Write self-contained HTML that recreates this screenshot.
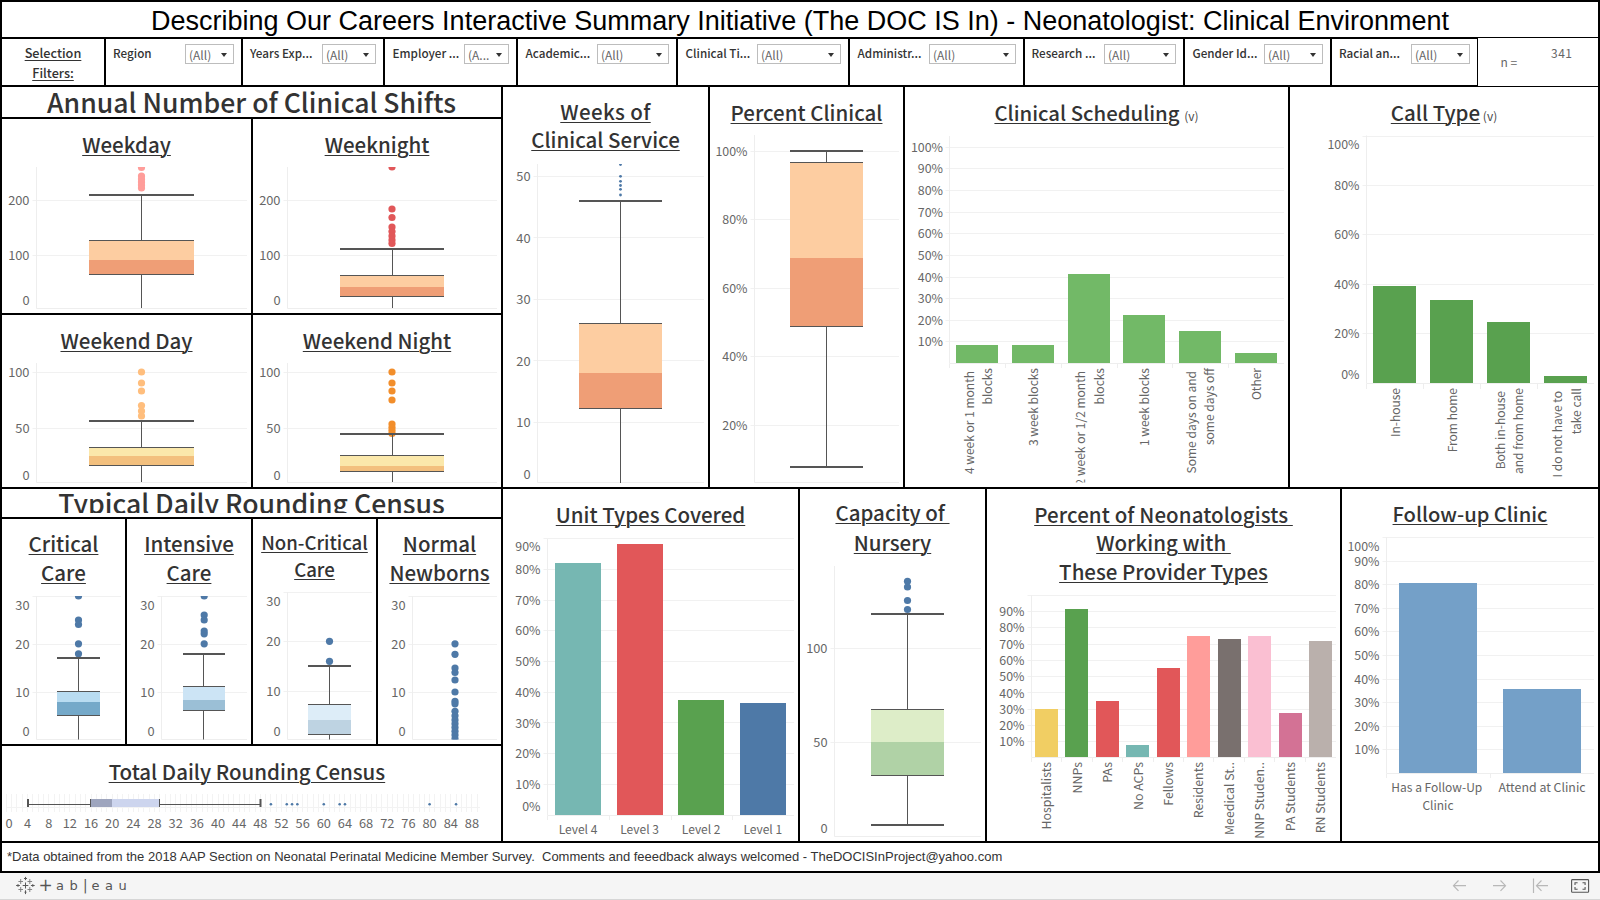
<!DOCTYPE html>
<html lang="en"><head><meta charset="utf-8"><title>DOC IS In - Neonatologist: Clinical Environment</title>
<style>
html,body{margin:0;padding:0;background:#fff;}
body{width:1600px;height:900px;position:relative;overflow:hidden;font-family:"Noto Sans CJK SC","Noto Sans CJK JP","Liberation Sans",sans-serif;}
svg.main{position:absolute;left:0;top:0}
svg.main text{font-family:"Noto Sans CJK SC","Noto Sans CJK JP","Liberation Sans",sans-serif;}
.h{position:absolute;text-align:center;white-space:nowrap;line-height:40px;height:40px;font-family:"Noto Sans CJK SC","Noto Sans CJK JP","Liberation Sans",sans-serif;}
.title{position:absolute;left:0;width:1600px;top:5px;height:32px;line-height:32px;text-align:center;font-family:"Liberation Sans",sans-serif;font-size:27px;color:#000;white-space:nowrap}
.fl{position:absolute;top:42.8px;height:20px;line-height:20px;font-size:11.7px;font-weight:500;color:#333;white-space:nowrap}
.dd{position:absolute;top:44px;height:18px;border:1px solid #bdbdbd;box-sizing:content-box;font-size:12px;color:#666;line-height:18px;background:#fff}
.dd span{position:absolute;left:3px;top:0.5px}
.dd i{position:absolute;right:6px;top:8px;width:0;height:0;border-left:3.2px solid transparent;border-right:3.2px solid transparent;border-top:4px solid #333}
.nn{position:absolute;font-size:12px;color:#666;line-height:16px;white-space:nowrap}
.foot{position:absolute;left:7px;top:848px;height:18px;line-height:18px;font-family:"Liberation Sans",sans-serif;font-size:13px;color:#333;white-space:nowrap}
.tb{position:absolute;left:0;top:873px;width:1600px;height:27px;background:#f5f5f5;border-bottom:1px solid #d6d6d6;box-sizing:border-box}
.logo{position:absolute;left:40px;top:875px;height:22px;width:90px;font-family:"DejaVu Sans","Liberation Sans",sans-serif;font-size:13px;color:#555}
.logo span{position:absolute;top:0;line-height:22px}
</style></head><body>
<svg class="main" width="1600" height="900" viewBox="0 0 1600 900">
<rect x="0" y="0" width="1600" height="2" fill="#000"/>
<rect x="0" y="37" width="1477" height="2" fill="#000"/>
<rect x="1477" y="37" width="123" height="1" fill="#000"/>
<rect x="0" y="85" width="1477" height="2" fill="#000"/>
<rect x="1477" y="86" width="123" height="1" fill="#000"/>
<rect x="0" y="117" width="503" height="2" fill="#000"/>
<rect x="0" y="313" width="503" height="2" fill="#000"/>
<rect x="0" y="487" width="1600" height="2" fill="#000"/>
<rect x="0" y="517" width="503" height="2" fill="#000"/>
<rect x="0" y="744" width="503" height="2" fill="#000"/>
<rect x="0" y="841" width="1600" height="2" fill="#000"/>
<rect x="0" y="871" width="1600" height="2" fill="#000"/>
<rect x="0" y="0" width="2" height="873" fill="#000"/>
<rect x="1598" y="0" width="2" height="873" fill="#000"/>
<rect x="104" y="37" width="2" height="50" fill="#000"/>
<rect x="241" y="37" width="2" height="50" fill="#000"/>
<rect x="383" y="37" width="2" height="50" fill="#000"/>
<rect x="516" y="37" width="2" height="50" fill="#000"/>
<rect x="676" y="37" width="2" height="50" fill="#000"/>
<rect x="848" y="37" width="2" height="50" fill="#000"/>
<rect x="1023" y="37" width="2" height="50" fill="#000"/>
<rect x="1183" y="37" width="2" height="50" fill="#000"/>
<rect x="1330" y="37" width="2" height="50" fill="#000"/>
<rect x="1477" y="37" width="1" height="50" fill="#000"/>
<rect x="251" y="117" width="2" height="370" fill="#000"/>
<rect x="501" y="85" width="2" height="758" fill="#000"/>
<rect x="708" y="85" width="2" height="404" fill="#000"/>
<rect x="903" y="85" width="2" height="404" fill="#000"/>
<rect x="1288" y="85" width="2" height="404" fill="#000"/>
<rect x="125" y="517" width="2" height="229" fill="#000"/>
<rect x="251" y="517" width="2" height="229" fill="#000"/>
<rect x="376" y="517" width="2" height="229" fill="#000"/>
<rect x="798" y="487" width="2" height="356" fill="#000"/>
<rect x="985" y="487" width="2" height="356" fill="#000"/>
<rect x="1340" y="487" width="2" height="356" fill="#000"/>
<rect x="32.5" y="200" width="214.5" height="1" fill="#f1f1f1"/>
<rect x="32.5" y="255" width="214.5" height="1" fill="#f1f1f1"/>
<rect x="36" y="167" width="1" height="141.5" fill="#eeeeee"/>
<rect x="36.5" y="308" width="210.5" height="1" fill="#eeeeee"/>
<text transform="translate(29.5,204.8) scale(1.07,1)" font-size="12" text-anchor="end" fill="#666" font-weight="400">200</text>
<text transform="translate(29.5,259.8) scale(1.07,1)" font-size="12" text-anchor="end" fill="#666" font-weight="400">100</text>
<text transform="translate(29.5,304.8) scale(1.07,1)" font-size="12" text-anchor="end" fill="#666" font-weight="400">0</text>
<rect x="32.5" y="372" width="214.5" height="1" fill="#f1f1f1"/>
<rect x="32.5" y="428" width="214.5" height="1" fill="#f1f1f1"/>
<rect x="36" y="363" width="1" height="119.5" fill="#eeeeee"/>
<rect x="36.5" y="482" width="210.5" height="1" fill="#eeeeee"/>
<text transform="translate(29.5,377) scale(1.07,1)" font-size="12" text-anchor="end" fill="#666" font-weight="400">100</text>
<text transform="translate(29.5,433.1) scale(1.07,1)" font-size="12" text-anchor="end" fill="#666" font-weight="400">50</text>
<text transform="translate(29.5,479.5) scale(1.07,1)" font-size="12" text-anchor="end" fill="#666" font-weight="400">0</text>
<rect x="283.5" y="200" width="213.5" height="1" fill="#f1f1f1"/>
<rect x="283.5" y="255" width="213.5" height="1" fill="#f1f1f1"/>
<rect x="287" y="167" width="1" height="141.5" fill="#eeeeee"/>
<rect x="287.5" y="308" width="209.5" height="1" fill="#eeeeee"/>
<text transform="translate(280.5,204.8) scale(1.07,1)" font-size="12" text-anchor="end" fill="#666" font-weight="400">200</text>
<text transform="translate(280.5,259.8) scale(1.07,1)" font-size="12" text-anchor="end" fill="#666" font-weight="400">100</text>
<text transform="translate(280.5,304.8) scale(1.07,1)" font-size="12" text-anchor="end" fill="#666" font-weight="400">0</text>
<rect x="283.5" y="372" width="213.5" height="1" fill="#f1f1f1"/>
<rect x="283.5" y="428" width="213.5" height="1" fill="#f1f1f1"/>
<rect x="287" y="363" width="1" height="119.5" fill="#eeeeee"/>
<rect x="287.5" y="482" width="209.5" height="1" fill="#eeeeee"/>
<text transform="translate(280.5,377) scale(1.07,1)" font-size="12" text-anchor="end" fill="#666" font-weight="400">100</text>
<text transform="translate(280.5,433.1) scale(1.07,1)" font-size="12" text-anchor="end" fill="#666" font-weight="400">50</text>
<text transform="translate(280.5,479.5) scale(1.07,1)" font-size="12" text-anchor="end" fill="#666" font-weight="400">0</text>
<clipPath id="c1"><rect x="37" y="167" width="210" height="141.5"/></clipPath>
<g clip-path="url(#c1)">
<circle cx="141.5" cy="167.5" r="3.6" fill="#FF9D9A"/>
<circle cx="141.5" cy="176" r="3.6" fill="#FF9D9A"/>
<circle cx="141.5" cy="179" r="3.6" fill="#FF9D9A"/>
<circle cx="141.5" cy="182" r="3.6" fill="#FF9D9A"/>
<circle cx="141.5" cy="185" r="3.6" fill="#FF9D9A"/>
<circle cx="141.5" cy="188" r="3.6" fill="#FF9D9A"/>
<rect x="141" y="194" width="1" height="46" fill="#555555"/>
<rect x="141" y="274" width="1" height="34" fill="#555555"/>
<rect x="89" y="240" width="105" height="20" fill="#FDCDA1"/>
<rect x="89" y="260" width="105" height="15" fill="#EF9E76"/>
<rect x="89" y="240" width="105" height="1" fill="#555555"/>
<rect x="89" y="274" width="105" height="1" fill="#555555"/>
<rect x="89" y="194" width="105" height="2" fill="#555555"/>
</g>
<clipPath id="c2"><rect x="288" y="167" width="209" height="141.5"/></clipPath>
<g clip-path="url(#c2)">
<circle cx="392" cy="167" r="3.6" fill="#E15759"/>
<circle cx="392" cy="209" r="3.6" fill="#E15759"/>
<circle cx="392" cy="217.5" r="3.6" fill="#E15759"/>
<circle cx="392" cy="227" r="3.6" fill="#E15759"/>
<circle cx="392" cy="231.5" r="3.6" fill="#E15759"/>
<circle cx="392" cy="236" r="3.6" fill="#E15759"/>
<circle cx="392" cy="240" r="3.6" fill="#E15759"/>
<circle cx="392" cy="243.5" r="3.6" fill="#E15759"/>
<rect x="392" y="248" width="1" height="27" fill="#555555"/>
<rect x="392" y="296" width="1" height="12" fill="#555555"/>
<rect x="340" y="275" width="104" height="12" fill="#FDCDA1"/>
<rect x="340" y="287" width="104" height="10" fill="#EF9E76"/>
<rect x="340" y="275" width="104" height="1" fill="#555555"/>
<rect x="340" y="296" width="104" height="1" fill="#555555"/>
<rect x="340" y="248" width="104" height="2" fill="#555555"/>
</g>
<clipPath id="c3"><rect x="37" y="363" width="210" height="119.5"/></clipPath>
<g clip-path="url(#c3)">
<circle cx="141.5" cy="372" r="3.6" fill="#FFBE7D"/>
<circle cx="141.5" cy="383" r="3.6" fill="#FFBE7D"/>
<circle cx="141.5" cy="391" r="3.6" fill="#FFBE7D"/>
<circle cx="141.5" cy="405.5" r="3.6" fill="#FFBE7D"/>
<circle cx="141.5" cy="411" r="3.6" fill="#FFBE7D"/>
<circle cx="141.5" cy="416" r="3.6" fill="#FFBE7D"/>
<rect x="141" y="420" width="1" height="27" fill="#555555"/>
<rect x="141" y="465" width="1" height="17" fill="#555555"/>
<rect x="89" y="447" width="105" height="9" fill="#FBE8AB"/>
<rect x="89" y="456" width="105" height="10" fill="#F3C07E"/>
<rect x="89" y="447" width="105" height="1" fill="#555555"/>
<rect x="89" y="465" width="105" height="1" fill="#555555"/>
<rect x="89" y="420" width="105" height="2" fill="#555555"/>
</g>
<clipPath id="c4"><rect x="288" y="363" width="209" height="119.5"/></clipPath>
<g clip-path="url(#c4)">
<circle cx="392" cy="372" r="3.6" fill="#F28E2B"/>
<circle cx="392" cy="383" r="3.6" fill="#F28E2B"/>
<circle cx="392" cy="391" r="3.6" fill="#F28E2B"/>
<circle cx="392" cy="400" r="3.6" fill="#F28E2B"/>
<circle cx="392" cy="424" r="3.6" fill="#F28E2B"/>
<circle cx="392" cy="427.5" r="3.6" fill="#F28E2B"/>
<circle cx="392" cy="430.5" r="3.6" fill="#F28E2B"/>
<circle cx="392" cy="433.5" r="3.6" fill="#F28E2B"/>
<rect x="392" y="433" width="1" height="22" fill="#555555"/>
<rect x="392" y="471" width="1" height="11" fill="#555555"/>
<rect x="340" y="455" width="104" height="11" fill="#FBE8AB"/>
<rect x="340" y="466" width="104" height="6" fill="#F3C07E"/>
<rect x="340" y="455" width="104" height="1" fill="#555555"/>
<rect x="340" y="471" width="104" height="1" fill="#555555"/>
<rect x="340" y="433" width="104" height="2" fill="#555555"/>
</g>
<rect x="533.5" y="176" width="170.5" height="1" fill="#f1f1f1"/>
<rect x="533.5" y="237" width="170.5" height="1" fill="#f1f1f1"/>
<rect x="533.5" y="299" width="170.5" height="1" fill="#f1f1f1"/>
<rect x="533.5" y="360" width="170.5" height="1" fill="#f1f1f1"/>
<rect x="533.5" y="422" width="170.5" height="1" fill="#f1f1f1"/>
<rect x="537" y="164" width="1" height="318.5" fill="#eeeeee"/>
<rect x="537.5" y="482" width="166.5" height="1" fill="#eeeeee"/>
<text transform="translate(530.5,181.3) scale(1.07,1)" font-size="12" text-anchor="end" fill="#666" font-weight="400">50</text>
<text transform="translate(530.5,242.8) scale(1.07,1)" font-size="12" text-anchor="end" fill="#666" font-weight="400">40</text>
<text transform="translate(530.5,304.3) scale(1.07,1)" font-size="12" text-anchor="end" fill="#666" font-weight="400">30</text>
<text transform="translate(530.5,365.8) scale(1.07,1)" font-size="12" text-anchor="end" fill="#666" font-weight="400">20</text>
<text transform="translate(530.5,427.3) scale(1.07,1)" font-size="12" text-anchor="end" fill="#666" font-weight="400">10</text>
<text transform="translate(530.5,479.3) scale(1.07,1)" font-size="12" text-anchor="end" fill="#666" font-weight="400">0</text>
<clipPath id="c5"><rect x="538" y="164" width="166" height="319.5"/></clipPath>
<g clip-path="url(#c5)">
<circle cx="620.5" cy="164.5" r="1.4" fill="#4E79A7"/>
<circle cx="620.5" cy="176.3" r="1.4" fill="#4E79A7"/>
<circle cx="620.5" cy="181.3" r="1.4" fill="#4E79A7"/>
<circle cx="620.5" cy="185.5" r="1.4" fill="#4E79A7"/>
<circle cx="620.5" cy="189.3" r="1.4" fill="#4E79A7"/>
<circle cx="620.5" cy="195" r="1.4" fill="#4E79A7"/>
<rect x="620" y="200" width="1" height="123" fill="#555555"/>
<rect x="620" y="408" width="1" height="75" fill="#555555"/>
<rect x="579" y="323" width="83" height="50" fill="#FDCDA1"/>
<rect x="579" y="373" width="83" height="36" fill="#EF9E76"/>
<rect x="579" y="323" width="83" height="1" fill="#555555"/>
<rect x="579" y="408" width="83" height="1" fill="#555555"/>
<rect x="579" y="200" width="83" height="2" fill="#555555"/>
</g>
<rect x="750.5" y="151" width="148.5" height="1" fill="#f1f1f1"/>
<rect x="750.5" y="219" width="148.5" height="1" fill="#f1f1f1"/>
<rect x="750.5" y="288" width="148.5" height="1" fill="#f1f1f1"/>
<rect x="750.5" y="356" width="148.5" height="1" fill="#f1f1f1"/>
<rect x="750.5" y="425" width="148.5" height="1" fill="#f1f1f1"/>
<rect x="754" y="135" width="1" height="347.5" fill="#eeeeee"/>
<rect x="754.5" y="482" width="144.5" height="1" fill="#eeeeee"/>
<text transform="translate(747.5,156.3) scale(1.035,1)" font-size="12" text-anchor="end" fill="#666" font-weight="400">100%</text>
<text transform="translate(747.5,224.3) scale(1.035,1)" font-size="12" text-anchor="end" fill="#666" font-weight="400">80%</text>
<text transform="translate(747.5,292.8) scale(1.035,1)" font-size="12" text-anchor="end" fill="#666" font-weight="400">60%</text>
<text transform="translate(747.5,361.3) scale(1.035,1)" font-size="12" text-anchor="end" fill="#666" font-weight="400">40%</text>
<text transform="translate(747.5,429.8) scale(1.035,1)" font-size="12" text-anchor="end" fill="#666" font-weight="400">20%</text>
<clipPath id="c6"><rect x="755" y="135" width="144" height="348.5"/></clipPath>
<g clip-path="url(#c6)">
<rect x="826" y="150" width="1" height="12" fill="#555555"/>
<rect x="826" y="326" width="1" height="141" fill="#555555"/>
<rect x="790" y="162" width="73" height="96" fill="#FDCDA1"/>
<rect x="790" y="258" width="73" height="69" fill="#EF9E76"/>
<rect x="790" y="162" width="73" height="1" fill="#555555"/>
<rect x="790" y="326" width="73" height="1" fill="#555555"/>
<rect x="790" y="150" width="73" height="2" fill="#555555"/>
<rect x="790" y="466" width="73" height="2" fill="#555555"/>
</g>
<rect x="945.5" y="147" width="338.5" height="1" fill="#f1f1f1"/>
<rect x="945.5" y="168" width="338.5" height="1" fill="#f1f1f1"/>
<rect x="945.5" y="190" width="338.5" height="1" fill="#f1f1f1"/>
<rect x="945.5" y="212" width="338.5" height="1" fill="#f1f1f1"/>
<rect x="945.5" y="233" width="338.5" height="1" fill="#f1f1f1"/>
<rect x="945.5" y="255" width="338.5" height="1" fill="#f1f1f1"/>
<rect x="945.5" y="277" width="338.5" height="1" fill="#f1f1f1"/>
<rect x="945.5" y="298" width="338.5" height="1" fill="#f1f1f1"/>
<rect x="945.5" y="320" width="338.5" height="1" fill="#f1f1f1"/>
<rect x="945.5" y="341" width="338.5" height="1" fill="#f1f1f1"/>
<rect x="949" y="136" width="1" height="227.5" fill="#eeeeee"/>
<rect x="949.5" y="363" width="334.5" height="1" fill="#eeeeee"/>
<text transform="translate(943,151.8) scale(1.035,1)" font-size="12" text-anchor="end" fill="#666" font-weight="400">100%</text>
<text transform="translate(943,172.8) scale(1.035,1)" font-size="12" text-anchor="end" fill="#666" font-weight="400">90%</text>
<text transform="translate(943,194.8) scale(1.035,1)" font-size="12" text-anchor="end" fill="#666" font-weight="400">80%</text>
<text transform="translate(943,216.8) scale(1.035,1)" font-size="12" text-anchor="end" fill="#666" font-weight="400">70%</text>
<text transform="translate(943,237.8) scale(1.035,1)" font-size="12" text-anchor="end" fill="#666" font-weight="400">60%</text>
<text transform="translate(943,259.8) scale(1.035,1)" font-size="12" text-anchor="end" fill="#666" font-weight="400">50%</text>
<text transform="translate(943,281.8) scale(1.035,1)" font-size="12" text-anchor="end" fill="#666" font-weight="400">40%</text>
<text transform="translate(943,302.8) scale(1.035,1)" font-size="12" text-anchor="end" fill="#666" font-weight="400">30%</text>
<text transform="translate(943,324.8) scale(1.035,1)" font-size="12" text-anchor="end" fill="#666" font-weight="400">20%</text>
<text transform="translate(943,345.8) scale(1.035,1)" font-size="12" text-anchor="end" fill="#666" font-weight="400">10%</text>
<rect x="956" y="345" width="42" height="18" fill="#72B967"/>
<rect x="1012" y="345" width="42" height="18" fill="#72B967"/>
<rect x="1068" y="274" width="42" height="89" fill="#72B967"/>
<rect x="1123" y="315" width="42" height="48" fill="#72B967"/>
<rect x="1179" y="331" width="42" height="32" fill="#72B967"/>
<rect x="1235" y="353" width="42" height="10" fill="#72B967"/>
<rect x="1005" y="364" width="1" height="4" fill="#eeeeee"/>
<rect x="1061" y="364" width="1" height="4" fill="#eeeeee"/>
<rect x="1117" y="364" width="1" height="4" fill="#eeeeee"/>
<rect x="1172" y="364" width="1" height="4" fill="#eeeeee"/>
<rect x="1228" y="364" width="1" height="4" fill="#eeeeee"/>
<rect x="949" y="364" width="1" height="4" fill="#eeeeee"/>
<clipPath id="cs"><rect x="905" y="364" width="383" height="118.5"/></clipPath><g clip-path="url(#cs)">
<text transform="translate(973.5,371) rotate(-90)" font-size="12" text-anchor="end" fill="#666">4 week or 1 month</text>
<text transform="translate(991.7,368) rotate(-90)" font-size="12" text-anchor="end" fill="#666">blocks</text>
<text transform="translate(1037.9,368) rotate(-90)" font-size="12" text-anchor="end" fill="#666">3 week blocks</text>
<text transform="translate(1085.2,371) rotate(-90)" font-size="12" text-anchor="end" fill="#666">2 week or 1/2 month</text>
<text transform="translate(1103.5,368) rotate(-90)" font-size="12" text-anchor="end" fill="#666">blocks</text>
<text transform="translate(1149.2,368) rotate(-90)" font-size="12" text-anchor="end" fill="#666">1 week blocks</text>
<text transform="translate(1195.9,371) rotate(-90)" font-size="12" text-anchor="end" fill="#666">Some days on and</text>
<text transform="translate(1214.2,368) rotate(-90)" font-size="12" text-anchor="end" fill="#666">some days off</text>
<text transform="translate(1260.7,368) rotate(-90)" font-size="12" text-anchor="end" fill="#666">Other</text>
</g>
<rect x="1362.5" y="136" width="231.5" height="1" fill="#f1f1f1"/>
<rect x="1362.5" y="185" width="231.5" height="1" fill="#f1f1f1"/>
<rect x="1362.5" y="234" width="231.5" height="1" fill="#f1f1f1"/>
<rect x="1362.5" y="284" width="231.5" height="1" fill="#f1f1f1"/>
<rect x="1362.5" y="333" width="231.5" height="1" fill="#f1f1f1"/>
<rect x="1366" y="135.5" width="1" height="248" fill="#eeeeee"/>
<rect x="1366.5" y="383" width="227.5" height="1" fill="#eeeeee"/>
<text transform="translate(1359.5,148.8) scale(1.035,1)" font-size="12" text-anchor="end" fill="#666" font-weight="400">100%</text>
<text transform="translate(1359.5,190) scale(1.035,1)" font-size="12" text-anchor="end" fill="#666" font-weight="400">80%</text>
<text transform="translate(1359.5,239) scale(1.035,1)" font-size="12" text-anchor="end" fill="#666" font-weight="400">60%</text>
<text transform="translate(1359.5,288.8) scale(1.035,1)" font-size="12" text-anchor="end" fill="#666" font-weight="400">40%</text>
<text transform="translate(1359.5,337.8) scale(1.035,1)" font-size="12" text-anchor="end" fill="#666" font-weight="400">20%</text>
<text transform="translate(1359.5,378.8) scale(1.035,1)" font-size="12" text-anchor="end" fill="#666" font-weight="400">0%</text>
<rect x="1373" y="286" width="43" height="97" fill="#59A14F"/>
<rect x="1430" y="300" width="43" height="83" fill="#59A14F"/>
<rect x="1487" y="322" width="43" height="61" fill="#59A14F"/>
<rect x="1544" y="376" width="43" height="7" fill="#59A14F"/>
<rect x="1366" y="384" width="1" height="5" fill="#eeeeee"/>
<rect x="1423" y="384" width="1" height="5" fill="#eeeeee"/>
<rect x="1480" y="384" width="1" height="5" fill="#eeeeee"/>
<rect x="1537" y="384" width="1" height="5" fill="#eeeeee"/>
<text transform="translate(1399.9,388) rotate(-90)" font-size="12" text-anchor="end" fill="#666">In-house</text>
<text transform="translate(1456.7,388) rotate(-90)" font-size="12" text-anchor="end" fill="#666">From home</text>
<text transform="translate(1504.9,391) rotate(-90)" font-size="12" text-anchor="end" fill="#666">Both in-house</text>
<text transform="translate(1523.4,388) rotate(-90)" font-size="12" text-anchor="end" fill="#666">and from home</text>
<text transform="translate(1562.2,391) rotate(-90)" font-size="12" text-anchor="end" fill="#666">I do not have to</text>
<text transform="translate(1580.5,388) rotate(-90)" font-size="12" text-anchor="end" fill="#666">take call</text>
<rect x="32.5" y="596" width="88.5" height="1" fill="#f1f1f1"/>
<rect x="32.5" y="644" width="88.5" height="1" fill="#f1f1f1"/>
<rect x="32.5" y="692" width="88.5" height="1" fill="#f1f1f1"/>
<rect x="36" y="596" width="1" height="143.5" fill="#eeeeee"/>
<rect x="36.5" y="739" width="84.5" height="1" fill="#eeeeee"/>
<text transform="translate(29.5,610.05) scale(1.07,1)" font-size="12" text-anchor="end" fill="#666" font-weight="400">30</text>
<text transform="translate(29.5,648.8) scale(1.07,1)" font-size="12" text-anchor="end" fill="#666" font-weight="400">20</text>
<text transform="translate(29.5,696.8) scale(1.07,1)" font-size="12" text-anchor="end" fill="#666" font-weight="400">10</text>
<text transform="translate(29.5,736.05) scale(1.07,1)" font-size="12" text-anchor="end" fill="#666" font-weight="400">0</text>
<clipPath id="c7"><rect x="37" y="596" width="84" height="144.0"/></clipPath>
<g clip-path="url(#c7)">
<circle cx="78.5" cy="596" r="3.6" fill="#4E79A7"/>
<circle cx="78.5" cy="620" r="3.6" fill="#4E79A7"/>
<circle cx="78.5" cy="624.5" r="3.6" fill="#4E79A7"/>
<circle cx="78.5" cy="643.8" r="3.6" fill="#4E79A7"/>
<circle cx="78.5" cy="653.8" r="3.6" fill="#4E79A7"/>
<rect x="78" y="657" width="1" height="34" fill="#555555"/>
<rect x="78" y="715" width="1" height="24.5" fill="#555555"/>
<rect x="57" y="691" width="43" height="11" fill="#B9DCF1"/>
<rect x="57" y="702" width="43" height="14" fill="#75A9C9"/>
<rect x="57" y="691" width="43" height="1" fill="#555555"/>
<rect x="57" y="715" width="43" height="1" fill="#555555"/>
<rect x="57" y="657" width="43" height="2" fill="#555555"/>
</g>
<rect x="157.5" y="596" width="89.5" height="1" fill="#f1f1f1"/>
<rect x="157.5" y="644" width="89.5" height="1" fill="#f1f1f1"/>
<rect x="157.5" y="692" width="89.5" height="1" fill="#f1f1f1"/>
<rect x="161" y="596" width="1" height="143.5" fill="#eeeeee"/>
<rect x="161.5" y="739" width="85.5" height="1" fill="#eeeeee"/>
<text transform="translate(154.5,610.05) scale(1.07,1)" font-size="12" text-anchor="end" fill="#666" font-weight="400">30</text>
<text transform="translate(154.5,648.8) scale(1.07,1)" font-size="12" text-anchor="end" fill="#666" font-weight="400">20</text>
<text transform="translate(154.5,696.8) scale(1.07,1)" font-size="12" text-anchor="end" fill="#666" font-weight="400">10</text>
<text transform="translate(154.5,736.05) scale(1.07,1)" font-size="12" text-anchor="end" fill="#666" font-weight="400">0</text>
<clipPath id="c8"><rect x="162" y="596" width="85" height="144.0"/></clipPath>
<g clip-path="url(#c8)">
<circle cx="204.2" cy="596" r="3.6" fill="#4E79A7"/>
<circle cx="204.2" cy="615" r="3.6" fill="#4E79A7"/>
<circle cx="204.2" cy="620" r="3.6" fill="#4E79A7"/>
<circle cx="204.2" cy="631" r="3.6" fill="#4E79A7"/>
<circle cx="204.2" cy="633.8" r="3.6" fill="#4E79A7"/>
<circle cx="204.2" cy="643.8" r="3.6" fill="#4E79A7"/>
<rect x="203" y="653" width="1" height="33" fill="#555555"/>
<rect x="203" y="710" width="1" height="29.5" fill="#555555"/>
<rect x="183" y="686" width="42" height="14" fill="#CCE4F5"/>
<rect x="183" y="700" width="42" height="11" fill="#9BBFD6"/>
<rect x="183" y="686" width="42" height="1" fill="#555555"/>
<rect x="183" y="710" width="42" height="1" fill="#555555"/>
<rect x="183" y="653" width="42" height="2" fill="#555555"/>
</g>
<rect x="283.5" y="592" width="88.5" height="1" fill="#f1f1f1"/>
<rect x="283.5" y="641" width="88.5" height="1" fill="#f1f1f1"/>
<rect x="283.5" y="691" width="88.5" height="1" fill="#f1f1f1"/>
<rect x="287" y="592.5" width="1" height="147" fill="#eeeeee"/>
<rect x="287.5" y="739" width="84.5" height="1" fill="#eeeeee"/>
<text transform="translate(280.5,606.3) scale(1.07,1)" font-size="12" text-anchor="end" fill="#666" font-weight="400">30</text>
<text transform="translate(280.5,646.05) scale(1.07,1)" font-size="12" text-anchor="end" fill="#666" font-weight="400">20</text>
<text transform="translate(280.5,696.3) scale(1.07,1)" font-size="12" text-anchor="end" fill="#666" font-weight="400">10</text>
<text transform="translate(280.5,736.05) scale(1.07,1)" font-size="12" text-anchor="end" fill="#666" font-weight="400">0</text>
<clipPath id="c9"><rect x="288" y="592.5" width="84" height="147.5"/></clipPath>
<g clip-path="url(#c9)">
<circle cx="329.5" cy="641.3" r="3.6" fill="#4E79A7"/>
<circle cx="329.5" cy="661.3" r="3.6" fill="#4E79A7"/>
<rect x="329" y="665" width="1" height="39" fill="#555555"/>
<rect x="329" y="734" width="1" height="5.5" fill="#555555"/>
<rect x="308" y="704" width="43" height="16" fill="#DDEDF8"/>
<rect x="308" y="720" width="43" height="15" fill="#BED3E2"/>
<rect x="308" y="704" width="43" height="1" fill="#555555"/>
<rect x="308" y="734" width="43" height="1" fill="#555555"/>
<rect x="308" y="665" width="43" height="2" fill="#555555"/>
</g>
<rect x="408.5" y="596" width="88.5" height="1" fill="#f1f1f1"/>
<rect x="408.5" y="644" width="88.5" height="1" fill="#f1f1f1"/>
<rect x="408.5" y="692" width="88.5" height="1" fill="#f1f1f1"/>
<rect x="412" y="596" width="1" height="143.5" fill="#eeeeee"/>
<rect x="412.5" y="739" width="84.5" height="1" fill="#eeeeee"/>
<text transform="translate(405.5,610.05) scale(1.07,1)" font-size="12" text-anchor="end" fill="#666" font-weight="400">30</text>
<text transform="translate(405.5,648.8) scale(1.07,1)" font-size="12" text-anchor="end" fill="#666" font-weight="400">20</text>
<text transform="translate(405.5,696.8) scale(1.07,1)" font-size="12" text-anchor="end" fill="#666" font-weight="400">10</text>
<text transform="translate(405.5,736.05) scale(1.07,1)" font-size="12" text-anchor="end" fill="#666" font-weight="400">0</text>
<clipPath id="nn"><rect x="413" y="596" width="84" height="143.5"/></clipPath><g clip-path="url(#nn)">
<circle cx="455" cy="643.8" r="3.6" fill="#4E79A7"/>
<circle cx="455" cy="654.3" r="3.6" fill="#4E79A7"/>
<circle cx="455" cy="668" r="3.6" fill="#4E79A7"/>
<circle cx="455" cy="672.5" r="3.6" fill="#4E79A7"/>
<circle cx="455" cy="680" r="3.6" fill="#4E79A7"/>
<circle cx="455" cy="692" r="3.6" fill="#4E79A7"/>
<circle cx="455" cy="701.3" r="3.6" fill="#4E79A7"/>
<circle cx="455" cy="703.8" r="3.6" fill="#4E79A7"/>
<circle cx="455" cy="711.3" r="3.6" fill="#4E79A7"/>
<circle cx="455" cy="715.8" r="3.6" fill="#4E79A7"/>
<circle cx="455" cy="720" r="3.6" fill="#4E79A7"/>
<circle cx="455" cy="723.8" r="3.6" fill="#4E79A7"/>
<circle cx="455" cy="727.5" r="3.6" fill="#4E79A7"/>
<circle cx="455" cy="731.3" r="3.6" fill="#4E79A7"/>
<circle cx="455" cy="735" r="3.6" fill="#4E79A7"/>
<circle cx="455" cy="738.8" r="3.6" fill="#4E79A7"/>
<circle cx="455" cy="742" r="3.6" fill="#4E79A7"/>
</g>
<rect x="6" y="794" width="1" height="18" fill="#f3f3f3"/>
<rect x="11" y="794" width="1" height="18" fill="#f3f3f3"/>
<rect x="16" y="794" width="1" height="18" fill="#f3f3f3"/>
<rect x="22" y="794" width="1" height="18" fill="#f3f3f3"/>
<rect x="27" y="794" width="1" height="18" fill="#f3f3f3"/>
<rect x="32" y="794" width="1" height="18" fill="#f3f3f3"/>
<rect x="38" y="794" width="1" height="18" fill="#f3f3f3"/>
<rect x="43" y="794" width="1" height="18" fill="#f3f3f3"/>
<rect x="48" y="794" width="1" height="18" fill="#f3f3f3"/>
<rect x="54" y="794" width="1" height="18" fill="#f3f3f3"/>
<rect x="59" y="794" width="1" height="18" fill="#f3f3f3"/>
<rect x="64" y="794" width="1" height="18" fill="#f3f3f3"/>
<rect x="69" y="794" width="1" height="18" fill="#f3f3f3"/>
<rect x="75" y="794" width="1" height="18" fill="#f3f3f3"/>
<rect x="80" y="794" width="1" height="18" fill="#f3f3f3"/>
<rect x="85" y="794" width="1" height="18" fill="#f3f3f3"/>
<rect x="91" y="794" width="1" height="18" fill="#f3f3f3"/>
<rect x="96" y="794" width="1" height="18" fill="#f3f3f3"/>
<rect x="101" y="794" width="1" height="18" fill="#f3f3f3"/>
<rect x="106" y="794" width="1" height="18" fill="#f3f3f3"/>
<rect x="112" y="794" width="1" height="18" fill="#f3f3f3"/>
<rect x="117" y="794" width="1" height="18" fill="#f3f3f3"/>
<rect x="122" y="794" width="1" height="18" fill="#f3f3f3"/>
<rect x="128" y="794" width="1" height="18" fill="#f3f3f3"/>
<rect x="133" y="794" width="1" height="18" fill="#f3f3f3"/>
<rect x="138" y="794" width="1" height="18" fill="#f3f3f3"/>
<rect x="143" y="794" width="1" height="18" fill="#f3f3f3"/>
<rect x="149" y="794" width="1" height="18" fill="#f3f3f3"/>
<rect x="154" y="794" width="1" height="18" fill="#f3f3f3"/>
<rect x="159" y="794" width="1" height="18" fill="#f3f3f3"/>
<rect x="165" y="794" width="1" height="18" fill="#f3f3f3"/>
<rect x="170" y="794" width="1" height="18" fill="#f3f3f3"/>
<rect x="175" y="794" width="1" height="18" fill="#f3f3f3"/>
<rect x="180" y="794" width="1" height="18" fill="#f3f3f3"/>
<rect x="186" y="794" width="1" height="18" fill="#f3f3f3"/>
<rect x="191" y="794" width="1" height="18" fill="#f3f3f3"/>
<rect x="196" y="794" width="1" height="18" fill="#f3f3f3"/>
<rect x="202" y="794" width="1" height="18" fill="#f3f3f3"/>
<rect x="207" y="794" width="1" height="18" fill="#f3f3f3"/>
<rect x="212" y="794" width="1" height="18" fill="#f3f3f3"/>
<rect x="218" y="794" width="1" height="18" fill="#f3f3f3"/>
<rect x="223" y="794" width="1" height="18" fill="#f3f3f3"/>
<rect x="228" y="794" width="1" height="18" fill="#f3f3f3"/>
<rect x="233" y="794" width="1" height="18" fill="#f3f3f3"/>
<rect x="239" y="794" width="1" height="18" fill="#f3f3f3"/>
<rect x="244" y="794" width="1" height="18" fill="#f3f3f3"/>
<rect x="249" y="794" width="1" height="18" fill="#f3f3f3"/>
<rect x="255" y="794" width="1" height="18" fill="#f3f3f3"/>
<rect x="260" y="794" width="1" height="18" fill="#f3f3f3"/>
<rect x="265" y="794" width="1" height="18" fill="#f3f3f3"/>
<rect x="270" y="794" width="1" height="18" fill="#f3f3f3"/>
<rect x="276" y="794" width="1" height="18" fill="#f3f3f3"/>
<rect x="281" y="794" width="1" height="18" fill="#f3f3f3"/>
<rect x="286" y="794" width="1" height="18" fill="#f3f3f3"/>
<rect x="292" y="794" width="1" height="18" fill="#f3f3f3"/>
<rect x="297" y="794" width="1" height="18" fill="#f3f3f3"/>
<rect x="302" y="794" width="1" height="18" fill="#f3f3f3"/>
<rect x="307" y="794" width="1" height="18" fill="#f3f3f3"/>
<rect x="313" y="794" width="1" height="18" fill="#f3f3f3"/>
<rect x="318" y="794" width="1" height="18" fill="#f3f3f3"/>
<rect x="323" y="794" width="1" height="18" fill="#f3f3f3"/>
<rect x="329" y="794" width="1" height="18" fill="#f3f3f3"/>
<rect x="334" y="794" width="1" height="18" fill="#f3f3f3"/>
<rect x="339" y="794" width="1" height="18" fill="#f3f3f3"/>
<rect x="344" y="794" width="1" height="18" fill="#f3f3f3"/>
<rect x="350" y="794" width="1" height="18" fill="#f3f3f3"/>
<rect x="355" y="794" width="1" height="18" fill="#f3f3f3"/>
<rect x="360" y="794" width="1" height="18" fill="#f3f3f3"/>
<rect x="366" y="794" width="1" height="18" fill="#f3f3f3"/>
<rect x="371" y="794" width="1" height="18" fill="#f3f3f3"/>
<rect x="376" y="794" width="1" height="18" fill="#f3f3f3"/>
<rect x="381" y="794" width="1" height="18" fill="#f3f3f3"/>
<rect x="387" y="794" width="1" height="18" fill="#f3f3f3"/>
<rect x="392" y="794" width="1" height="18" fill="#f3f3f3"/>
<rect x="397" y="794" width="1" height="18" fill="#f3f3f3"/>
<rect x="403" y="794" width="1" height="18" fill="#f3f3f3"/>
<rect x="408" y="794" width="1" height="18" fill="#f3f3f3"/>
<rect x="413" y="794" width="1" height="18" fill="#f3f3f3"/>
<rect x="419" y="794" width="1" height="18" fill="#f3f3f3"/>
<rect x="424" y="794" width="1" height="18" fill="#f3f3f3"/>
<rect x="429" y="794" width="1" height="18" fill="#f3f3f3"/>
<rect x="434" y="794" width="1" height="18" fill="#f3f3f3"/>
<rect x="440" y="794" width="1" height="18" fill="#f3f3f3"/>
<rect x="445" y="794" width="1" height="18" fill="#f3f3f3"/>
<rect x="450" y="794" width="1" height="18" fill="#f3f3f3"/>
<rect x="456" y="794" width="1" height="18" fill="#f3f3f3"/>
<rect x="461" y="794" width="1" height="18" fill="#f3f3f3"/>
<rect x="466" y="794" width="1" height="18" fill="#f3f3f3"/>
<rect x="471" y="794" width="1" height="18" fill="#f3f3f3"/>
<rect x="477" y="794" width="1" height="18" fill="#f3f3f3"/>
<rect x="6" y="807" width="474" height="1" fill="#f3f3f3"/>
<rect x="27.56" y="804" width="63.48" height="1" fill="#555555"/>
<rect x="159.81" y="804" width="100.51" height="1" fill="#555555"/>
<rect x="27" y="799" width="2" height="8" fill="#555555"/>
<rect x="259.5" y="799" width="2" height="8" fill="#555555"/>
<rect x="90" y="799" width="22" height="8" fill="#9EA5BE"/>
<rect x="112" y="799" width="48" height="8" fill="#CDD5EE"/>
<rect x="90" y="799" width="1" height="8" fill="#555555"/>
<rect x="159" y="799" width="1" height="8" fill="#555555"/>
<circle cx="270.9" cy="804.2" r="1.3" fill="#4E79A7"/>
<circle cx="286.77" cy="804.2" r="1.3" fill="#4E79A7"/>
<circle cx="292.06" cy="804.2" r="1.3" fill="#4E79A7"/>
<circle cx="297.35" cy="804.2" r="1.3" fill="#4E79A7"/>
<circle cx="323.8" cy="804.2" r="1.3" fill="#4E79A7"/>
<circle cx="339.67" cy="804.2" r="1.3" fill="#4E79A7"/>
<circle cx="344.96" cy="804.2" r="1.3" fill="#4E79A7"/>
<circle cx="429.6" cy="804.2" r="1.3" fill="#4E79A7"/>
<circle cx="456.05" cy="804.2" r="1.3" fill="#4E79A7"/>
<text transform="translate(9.1,828) scale(1.07,1)" font-size="12" text-anchor="middle" fill="#666" font-weight="400">0</text>
<text transform="translate(27.56,828) scale(1.07,1)" font-size="12" text-anchor="middle" fill="#666" font-weight="400">4</text>
<text transform="translate(48.72,828) scale(1.07,1)" font-size="12" text-anchor="middle" fill="#666" font-weight="400">8</text>
<text transform="translate(69.88,828) scale(1.07,1)" font-size="12" text-anchor="middle" fill="#666" font-weight="400">12</text>
<text transform="translate(91.04,828) scale(1.07,1)" font-size="12" text-anchor="middle" fill="#666" font-weight="400">16</text>
<text transform="translate(112.2,828) scale(1.07,1)" font-size="12" text-anchor="middle" fill="#666" font-weight="400">20</text>
<text transform="translate(133.36,828) scale(1.07,1)" font-size="12" text-anchor="middle" fill="#666" font-weight="400">24</text>
<text transform="translate(154.52,828) scale(1.07,1)" font-size="12" text-anchor="middle" fill="#666" font-weight="400">28</text>
<text transform="translate(175.68,828) scale(1.07,1)" font-size="12" text-anchor="middle" fill="#666" font-weight="400">32</text>
<text transform="translate(196.84,828) scale(1.07,1)" font-size="12" text-anchor="middle" fill="#666" font-weight="400">36</text>
<text transform="translate(218,828) scale(1.07,1)" font-size="12" text-anchor="middle" fill="#666" font-weight="400">40</text>
<text transform="translate(239.16,828) scale(1.07,1)" font-size="12" text-anchor="middle" fill="#666" font-weight="400">44</text>
<text transform="translate(260.32,828) scale(1.07,1)" font-size="12" text-anchor="middle" fill="#666" font-weight="400">48</text>
<text transform="translate(281.48,828) scale(1.07,1)" font-size="12" text-anchor="middle" fill="#666" font-weight="400">52</text>
<text transform="translate(302.64,828) scale(1.07,1)" font-size="12" text-anchor="middle" fill="#666" font-weight="400">56</text>
<text transform="translate(323.8,828) scale(1.07,1)" font-size="12" text-anchor="middle" fill="#666" font-weight="400">60</text>
<text transform="translate(344.96,828) scale(1.07,1)" font-size="12" text-anchor="middle" fill="#666" font-weight="400">64</text>
<text transform="translate(366.12,828) scale(1.07,1)" font-size="12" text-anchor="middle" fill="#666" font-weight="400">68</text>
<text transform="translate(387.28,828) scale(1.07,1)" font-size="12" text-anchor="middle" fill="#666" font-weight="400">72</text>
<text transform="translate(408.44,828) scale(1.07,1)" font-size="12" text-anchor="middle" fill="#666" font-weight="400">76</text>
<text transform="translate(429.6,828) scale(1.07,1)" font-size="12" text-anchor="middle" fill="#666" font-weight="400">80</text>
<text transform="translate(450.76,828) scale(1.07,1)" font-size="12" text-anchor="middle" fill="#666" font-weight="400">84</text>
<text transform="translate(471.92,828) scale(1.07,1)" font-size="12" text-anchor="middle" fill="#666" font-weight="400">88</text>
<rect x="543.5" y="538" width="250.5" height="1" fill="#f1f1f1"/>
<rect x="543.5" y="569" width="250.5" height="1" fill="#f1f1f1"/>
<rect x="543.5" y="600" width="250.5" height="1" fill="#f1f1f1"/>
<rect x="543.5" y="630" width="250.5" height="1" fill="#f1f1f1"/>
<rect x="543.5" y="661" width="250.5" height="1" fill="#f1f1f1"/>
<rect x="543.5" y="692" width="250.5" height="1" fill="#f1f1f1"/>
<rect x="543.5" y="722" width="250.5" height="1" fill="#f1f1f1"/>
<rect x="543.5" y="753" width="250.5" height="1" fill="#f1f1f1"/>
<rect x="543.5" y="784" width="250.5" height="1" fill="#f1f1f1"/>
<rect x="547" y="539" width="1" height="276.5" fill="#eeeeee"/>
<rect x="547.5" y="815" width="246.5" height="1" fill="#eeeeee"/>
<text transform="translate(540.5,551.3) scale(1.035,1)" font-size="12" text-anchor="end" fill="#666" font-weight="400">90%</text>
<text transform="translate(540.5,573.8) scale(1.035,1)" font-size="12" text-anchor="end" fill="#666" font-weight="400">80%</text>
<text transform="translate(540.5,604.55) scale(1.035,1)" font-size="12" text-anchor="end" fill="#666" font-weight="400">70%</text>
<text transform="translate(540.5,635.3) scale(1.035,1)" font-size="12" text-anchor="end" fill="#666" font-weight="400">60%</text>
<text transform="translate(540.5,666.05) scale(1.035,1)" font-size="12" text-anchor="end" fill="#666" font-weight="400">50%</text>
<text transform="translate(540.5,696.8) scale(1.035,1)" font-size="12" text-anchor="end" fill="#666" font-weight="400">40%</text>
<text transform="translate(540.5,727.55) scale(1.035,1)" font-size="12" text-anchor="end" fill="#666" font-weight="400">30%</text>
<text transform="translate(540.5,758.3) scale(1.035,1)" font-size="12" text-anchor="end" fill="#666" font-weight="400">20%</text>
<text transform="translate(540.5,789.05) scale(1.035,1)" font-size="12" text-anchor="end" fill="#666" font-weight="400">10%</text>
<text transform="translate(540.5,811.3) scale(1.035,1)" font-size="12" text-anchor="end" fill="#666" font-weight="400">0%</text>
<rect x="555" y="563" width="46" height="252" fill="#76B7B2"/>
<rect x="617" y="544" width="46" height="271" fill="#E15759"/>
<rect x="678" y="700" width="46" height="115" fill="#59A14F"/>
<rect x="740" y="703" width="46" height="112" fill="#4E79A7"/>
<rect x="547" y="816" width="1" height="4" fill="#eeeeee"/>
<rect x="609" y="816" width="1" height="4" fill="#eeeeee"/>
<rect x="671" y="816" width="1" height="4" fill="#eeeeee"/>
<rect x="732" y="816" width="1" height="4" fill="#eeeeee"/>
<text x="578" y="833.8" font-size="12" text-anchor="middle" fill="#666" font-weight="400">Level 4</text>
<text x="639.6" y="833.8" font-size="12" text-anchor="middle" fill="#666" font-weight="400">Level 3</text>
<text x="701.2" y="833.8" font-size="12" text-anchor="middle" fill="#666" font-weight="400">Level 2</text>
<text x="762.8" y="833.8" font-size="12" text-anchor="middle" fill="#666" font-weight="400">Level 1</text>
<rect x="830.5" y="648" width="150.5" height="1" fill="#f1f1f1"/>
<rect x="830.5" y="742" width="150.5" height="1" fill="#f1f1f1"/>
<rect x="834" y="566" width="1" height="270.5" fill="#eeeeee"/>
<rect x="834.5" y="836" width="146.5" height="1" fill="#eeeeee"/>
<text transform="translate(827.5,653.3) scale(1.07,1)" font-size="12" text-anchor="end" fill="#666" font-weight="400">100</text>
<text transform="translate(827.5,747.1) scale(1.07,1)" font-size="12" text-anchor="end" fill="#666" font-weight="400">50</text>
<text transform="translate(827.5,833.1) scale(1.07,1)" font-size="12" text-anchor="end" fill="#666" font-weight="400">0</text>
<clipPath id="c10"><rect x="835" y="566" width="146" height="271.0"/></clipPath>
<g clip-path="url(#c10)">
<circle cx="907.5" cy="581.3" r="3.6" fill="#4E79A7"/>
<circle cx="907.5" cy="587" r="3.6" fill="#4E79A7"/>
<circle cx="907.5" cy="600.5" r="3.6" fill="#4E79A7"/>
<circle cx="907.5" cy="609.5" r="3.6" fill="#4E79A7"/>
<rect x="907" y="613" width="1" height="96" fill="#555555"/>
<rect x="907" y="775" width="1" height="50" fill="#555555"/>
<rect x="871" y="709" width="73" height="33" fill="#DDEDC8"/>
<rect x="871" y="742" width="73" height="34" fill="#B0D2A6"/>
<rect x="871" y="709" width="73" height="1" fill="#555555"/>
<rect x="871" y="775" width="73" height="1" fill="#555555"/>
<rect x="871" y="613" width="73" height="2" fill="#555555"/>
<rect x="871" y="824" width="73" height="2" fill="#555555"/>
</g>
<rect x="1027.5" y="595" width="308.5" height="1" fill="#f1f1f1"/>
<rect x="1027.5" y="611" width="308.5" height="1" fill="#f1f1f1"/>
<rect x="1027.5" y="627" width="308.5" height="1" fill="#f1f1f1"/>
<rect x="1027.5" y="644" width="308.5" height="1" fill="#f1f1f1"/>
<rect x="1027.5" y="660" width="308.5" height="1" fill="#f1f1f1"/>
<rect x="1027.5" y="676" width="308.5" height="1" fill="#f1f1f1"/>
<rect x="1027.5" y="692" width="308.5" height="1" fill="#f1f1f1"/>
<rect x="1027.5" y="709" width="308.5" height="1" fill="#f1f1f1"/>
<rect x="1027.5" y="725" width="308.5" height="1" fill="#f1f1f1"/>
<rect x="1027.5" y="741" width="308.5" height="1" fill="#f1f1f1"/>
<rect x="1031" y="595.5" width="1" height="162" fill="#eeeeee"/>
<rect x="1031.5" y="757" width="304.5" height="1" fill="#eeeeee"/>
<text transform="translate(1024.5,616.1) scale(1.035,1)" font-size="12" text-anchor="end" fill="#666" font-weight="400">90%</text>
<text transform="translate(1024.5,632.38) scale(1.035,1)" font-size="12" text-anchor="end" fill="#666" font-weight="400">80%</text>
<text transform="translate(1024.5,648.66) scale(1.035,1)" font-size="12" text-anchor="end" fill="#666" font-weight="400">70%</text>
<text transform="translate(1024.5,664.94) scale(1.035,1)" font-size="12" text-anchor="end" fill="#666" font-weight="400">60%</text>
<text transform="translate(1024.5,681.22) scale(1.035,1)" font-size="12" text-anchor="end" fill="#666" font-weight="400">50%</text>
<text transform="translate(1024.5,697.5) scale(1.035,1)" font-size="12" text-anchor="end" fill="#666" font-weight="400">40%</text>
<text transform="translate(1024.5,713.78) scale(1.035,1)" font-size="12" text-anchor="end" fill="#666" font-weight="400">30%</text>
<text transform="translate(1024.5,730.06) scale(1.035,1)" font-size="12" text-anchor="end" fill="#666" font-weight="400">20%</text>
<text transform="translate(1024.5,746.34) scale(1.035,1)" font-size="12" text-anchor="end" fill="#666" font-weight="400">10%</text>
<rect x="1035" y="709" width="23" height="48" fill="#F1CE63"/>
<rect x="1065" y="609" width="23" height="148" fill="#59A14F"/>
<rect x="1096" y="701" width="23" height="56" fill="#E15759"/>
<rect x="1126" y="745" width="23" height="12" fill="#76B7B2"/>
<rect x="1157" y="668" width="23" height="89" fill="#E15759"/>
<rect x="1187" y="636" width="23" height="121" fill="#FF9D9A"/>
<rect x="1218" y="639" width="23" height="118" fill="#79706E"/>
<rect x="1248" y="636" width="23" height="121" fill="#FABFD2"/>
<rect x="1279" y="713" width="23" height="44" fill="#D37295"/>
<rect x="1309" y="641" width="23" height="116" fill="#BAB0AC"/>
<rect x="1031" y="758" width="1" height="4" fill="#eeeeee"/>
<rect x="1061" y="758" width="1" height="4" fill="#eeeeee"/>
<rect x="1092" y="758" width="1" height="4" fill="#eeeeee"/>
<rect x="1122" y="758" width="1" height="4" fill="#eeeeee"/>
<rect x="1153" y="758" width="1" height="4" fill="#eeeeee"/>
<rect x="1183" y="758" width="1" height="4" fill="#eeeeee"/>
<rect x="1213" y="758" width="1" height="4" fill="#eeeeee"/>
<rect x="1244" y="758" width="1" height="4" fill="#eeeeee"/>
<rect x="1274" y="758" width="1" height="4" fill="#eeeeee"/>
<rect x="1305" y="758" width="1" height="4" fill="#eeeeee"/>
<text transform="translate(1051.2,762) rotate(-90)" font-size="12.4" text-anchor="end" fill="#666">Hospitalists</text>
<text transform="translate(1081.65,762) rotate(-90)" font-size="12.4" text-anchor="end" fill="#666">NNPs</text>
<text transform="translate(1112.1,762) rotate(-90)" font-size="12.4" text-anchor="end" fill="#666">PAs</text>
<text transform="translate(1142.55,762) rotate(-90)" font-size="12.4" text-anchor="end" fill="#666">No ACPs</text>
<text transform="translate(1173,762) rotate(-90)" font-size="12.4" text-anchor="end" fill="#666">Fellows</text>
<text transform="translate(1203.45,762) rotate(-90)" font-size="12.4" text-anchor="end" fill="#666">Residents</text>
<text transform="translate(1233.9,762) rotate(-90)" font-size="12.4" text-anchor="end" fill="#666">Meedical St..</text>
<text transform="translate(1264.35,762) rotate(-90)" font-size="12.4" text-anchor="end" fill="#666">NNP Studen..</text>
<text transform="translate(1294.8,762) rotate(-90)" font-size="12.4" text-anchor="end" fill="#666">PA Students</text>
<text transform="translate(1325.25,762) rotate(-90)" font-size="12.4" text-anchor="end" fill="#666">RN Students</text>
<rect x="1382.5" y="537" width="211.5" height="1" fill="#f1f1f1"/>
<rect x="1382.5" y="561" width="211.5" height="1" fill="#f1f1f1"/>
<rect x="1382.5" y="584" width="211.5" height="1" fill="#f1f1f1"/>
<rect x="1382.5" y="608" width="211.5" height="1" fill="#f1f1f1"/>
<rect x="1382.5" y="631" width="211.5" height="1" fill="#f1f1f1"/>
<rect x="1382.5" y="655" width="211.5" height="1" fill="#f1f1f1"/>
<rect x="1382.5" y="679" width="211.5" height="1" fill="#f1f1f1"/>
<rect x="1382.5" y="702" width="211.5" height="1" fill="#f1f1f1"/>
<rect x="1382.5" y="726" width="211.5" height="1" fill="#f1f1f1"/>
<rect x="1382.5" y="749" width="211.5" height="1" fill="#f1f1f1"/>
<rect x="1386" y="537.5" width="1" height="236" fill="#eeeeee"/>
<rect x="1386.5" y="773" width="207.5" height="1" fill="#eeeeee"/>
<text transform="translate(1379.5,551.3) scale(1.035,1)" font-size="12" text-anchor="end" fill="#666" font-weight="400">100%</text>
<text transform="translate(1379.5,566) scale(1.035,1)" font-size="12" text-anchor="end" fill="#666" font-weight="400">90%</text>
<text transform="translate(1379.5,589) scale(1.035,1)" font-size="12" text-anchor="end" fill="#666" font-weight="400">80%</text>
<text transform="translate(1379.5,613) scale(1.035,1)" font-size="12" text-anchor="end" fill="#666" font-weight="400">70%</text>
<text transform="translate(1379.5,636) scale(1.035,1)" font-size="12" text-anchor="end" fill="#666" font-weight="400">60%</text>
<text transform="translate(1379.5,660) scale(1.035,1)" font-size="12" text-anchor="end" fill="#666" font-weight="400">50%</text>
<text transform="translate(1379.5,684) scale(1.035,1)" font-size="12" text-anchor="end" fill="#666" font-weight="400">40%</text>
<text transform="translate(1379.5,707) scale(1.035,1)" font-size="12" text-anchor="end" fill="#666" font-weight="400">30%</text>
<text transform="translate(1379.5,731) scale(1.035,1)" font-size="12" text-anchor="end" fill="#666" font-weight="400">20%</text>
<text transform="translate(1379.5,754) scale(1.035,1)" font-size="12" text-anchor="end" fill="#666" font-weight="400">10%</text>
<rect x="1399" y="583" width="78" height="190" fill="#74A0C8"/>
<rect x="1503" y="689" width="78" height="84" fill="#74A0C8"/>
<rect x="1386" y="774" width="1" height="4" fill="#eeeeee"/>
<rect x="1490" y="774" width="1" height="4" fill="#eeeeee"/>
<text x="1436.8" y="792.3" font-size="12" text-anchor="middle" fill="#666" font-weight="400">Has a Follow-Up</text>
<text x="1438" y="809.8" font-size="12" text-anchor="middle" fill="#666" font-weight="400">Clinic</text>
<text transform="translate(1542,792.3) scale(1.03,1)" font-size="12" text-anchor="middle" fill="#666" font-weight="400">Attend at Clinic</text>
</svg>
<div class="title">Describing Our Careers Interactive Summary Initiative (The DOC IS In) - Neonatologist: Clinical Environment</div>
<div class="h" style="left:2px;width:102px;top:33.46px;font-size:12.7px;font-weight:500;color:#333;"><span style="text-decoration:underline;text-decoration-thickness:1.4px;text-underline-offset:1.6px;">Selection</span></div>
<div class="h" style="left:2px;width:102px;top:52.66px;font-size:12.7px;font-weight:500;color:#333;"><span style="text-decoration:underline;text-decoration-thickness:1.4px;text-underline-offset:1.6px;">Filters:</span></div>
<div class="fl" style="left:113px">Region</div>
<div class="dd" style="left:185px;width:47px"><span>(All)</span><i></i></div>
<div class="fl" style="left:250px">Years Exp...</div>
<div class="dd" style="left:322px;width:51.5px"><span>(All)</span><i></i></div>
<div class="fl" style="left:392.5px">Employer ...</div>
<div class="dd" style="left:464px;width:43px"><span>(A...</span><i></i></div>
<div class="fl" style="left:525.5px">Academic...</div>
<div class="dd" style="left:597px;width:70px"><span>(All)</span><i></i></div>
<div class="fl" style="left:685.5px">Clinical Ti...</div>
<div class="dd" style="left:757px;width:82px"><span>(All)</span><i></i></div>
<div class="fl" style="left:857.5px">Administr...</div>
<div class="dd" style="left:929px;width:85px"><span>(All)</span><i></i></div>
<div class="fl" style="left:1031.5px">Research ...</div>
<div class="dd" style="left:1104px;width:70px"><span>(All)</span><i></i></div>
<div class="fl" style="left:1192.5px">Gender Id...</div>
<div class="dd" style="left:1264px;width:57px"><span>(All)</span><i></i></div>
<div class="fl" style="left:1339px">Racial an...</div>
<div class="dd" style="left:1411px;width:57px"><span>(All)</span><i></i></div>
<div class="nn" style="left:1500.5px;top:54px">n =</div>
<div class="nn" style="left:1551px;top:44.5px;letter-spacing:0.5px">341</div>
<div class="h" style="left:2px;width:499px;top:82.40px;font-size:26.6px;font-weight:500;color:#333;"><span style="">Annual Number of Clinical Shifts</span></div>
<div style="position:absolute;left:2px;top:489px;width:499px;height:24px;overflow:hidden"><div class="h" style="left:0;width:499px;top:-6.4px;font-size:26.6px;font-weight:500;color:#333">Typical Daily Rounding Census</div></div>
<div class="h" style="left:2px;width:249px;top:124.06px;font-size:20.5px;font-weight:500;color:#333;"><span style="text-decoration:underline;text-decoration-thickness:1.4px;text-underline-offset:1.6px;">Weekday</span></div>
<div class="h" style="left:253px;width:248px;top:124.06px;font-size:20.5px;font-weight:500;color:#333;"><span style="text-decoration:underline;text-decoration-thickness:1.4px;text-underline-offset:1.6px;">Weeknight</span></div>
<div class="h" style="left:2px;width:249px;top:320.06px;font-size:20.5px;font-weight:500;color:#333;"><span style="text-decoration:underline;text-decoration-thickness:1.4px;text-underline-offset:1.6px;">Weekend Day</span></div>
<div class="h" style="left:253px;width:248px;top:320.06px;font-size:20.5px;font-weight:500;color:#333;"><span style="text-decoration:underline;text-decoration-thickness:1.4px;text-underline-offset:1.6px;">Weekend Night</span></div>
<div class="h" style="left:503px;width:205px;top:90.56px;font-size:20.5px;font-weight:500;color:#333;letter-spacing:0.38px;"><span style="text-decoration:underline;text-decoration-thickness:1.4px;text-underline-offset:1.6px;">Weeks of</span></div>
<div class="h" style="left:503px;width:205px;top:119.06px;font-size:20.5px;font-weight:500;color:#333;"><span style="text-decoration:underline;text-decoration-thickness:1.4px;text-underline-offset:1.6px;">Clinical Service</span></div>
<div class="h" style="left:710px;width:193px;top:91.56px;font-size:20.5px;font-weight:500;color:#333;"><span style="text-decoration:underline;text-decoration-thickness:1.4px;text-underline-offset:1.6px;">Percent Clinical</span></div>
<div class="h" style="left:905px;width:383px;top:91.56px;font-size:20.35px;font-weight:500;color:#333"><span style="text-decoration:underline;text-decoration-thickness:1.4px;text-underline-offset:1.6px">Clinical Scheduling</span><span style="font-size:12px;font-weight:400;color:#4a4a4a;margin-left:2px"> (v)</span></div>
<div class="h" style="left:1290px;width:308px;top:91.56px;font-size:20.5px;font-weight:500;color:#333"><span style="text-decoration:underline;text-decoration-thickness:1.4px;text-underline-offset:1.6px">Call Type</span><span style="font-size:12px;font-weight:400;color:#4a4a4a;margin-left:0px"> (v)</span></div>
<div class="h" style="left:2px;width:123px;top:523.06px;font-size:20.5px;font-weight:500;color:#333;"><span style="text-decoration:underline;text-decoration-thickness:1.4px;text-underline-offset:1.6px;">Critical</span></div>
<div class="h" style="left:2px;width:123px;top:551.86px;font-size:20.5px;font-weight:500;color:#333;"><span style="text-decoration:underline;text-decoration-thickness:1.4px;text-underline-offset:1.6px;">Care</span></div>
<div class="h" style="left:127px;width:124px;top:523.06px;font-size:20.5px;font-weight:500;color:#333;"><span style="text-decoration:underline;text-decoration-thickness:1.4px;text-underline-offset:1.6px;">Intensive</span></div>
<div class="h" style="left:127px;width:124px;top:551.86px;font-size:20.5px;font-weight:500;color:#333;"><span style="text-decoration:underline;text-decoration-thickness:1.4px;text-underline-offset:1.6px;">Care</span></div>
<div class="h" style="left:253px;width:123px;top:521.89px;font-size:18.6px;font-weight:500;color:#333;"><span style="text-decoration:underline;text-decoration-thickness:1.4px;text-underline-offset:1.6px;">Non-Critical</span></div>
<div class="h" style="left:253px;width:123px;top:548.89px;font-size:18.6px;font-weight:500;color:#333;"><span style="text-decoration:underline;text-decoration-thickness:1.4px;text-underline-offset:1.6px;">Care</span></div>
<div class="h" style="left:378px;width:123px;top:523.06px;font-size:20.5px;font-weight:500;color:#333;"><span style="text-decoration:underline;text-decoration-thickness:1.4px;text-underline-offset:1.6px;">Normal</span></div>
<div class="h" style="left:378px;width:123px;top:551.86px;font-size:20.5px;font-weight:500;color:#333;"><span style="text-decoration:underline;text-decoration-thickness:1.4px;text-underline-offset:1.6px;">Newborns</span></div>
<div class="h" style="left:-2.6px;width:499.0px;top:750.56px;font-size:20.5px;font-weight:500;color:#333;"><span style="text-decoration:underline;text-decoration-thickness:1.4px;text-underline-offset:1.6px;">Total Daily Rounding Census</span></div>
<div class="h" style="left:503px;width:295px;top:493.56px;font-size:20.5px;font-weight:500;color:#333;"><span style="text-decoration:underline;text-decoration-thickness:1.4px;text-underline-offset:1.6px;">Unit Types Covered</span></div>
<div class="h" style="left:800px;width:185px;top:492.36px;font-size:20.5px;font-weight:500;color:#333;"><span style="text-decoration:underline;text-decoration-thickness:1.4px;text-underline-offset:1.6px;">Capacity of&nbsp;</span></div>
<div class="h" style="left:800px;width:185px;top:521.56px;font-size:20.5px;font-weight:500;color:#333;"><span style="text-decoration:underline;text-decoration-thickness:1.4px;text-underline-offset:1.6px;">Nursery</span></div>
<div class="h" style="left:987px;width:353px;top:493.56px;font-size:20.5px;font-weight:500;color:#333;letter-spacing:0.1px;"><span style="text-decoration:underline;text-decoration-thickness:1.4px;text-underline-offset:1.6px;">Percent of Neonatologists&nbsp;</span></div>
<div class="h" style="left:987px;width:353px;top:522.36px;font-size:20.5px;font-weight:500;color:#333;"><span style="text-decoration:underline;text-decoration-thickness:1.4px;text-underline-offset:1.6px;">Working with&nbsp;</span></div>
<div class="h" style="left:987px;width:353px;top:551.06px;font-size:20.5px;font-weight:500;color:#333;"><span style="text-decoration:underline;text-decoration-thickness:1.4px;text-underline-offset:1.6px;">These Provider Types</span></div>
<div class="h" style="left:1342px;width:256px;top:493.71px;font-size:20.15px;font-weight:500;color:#333;"><span style="text-decoration:underline;text-decoration-thickness:1.4px;text-underline-offset:1.6px;">Follow-up Clinic</span></div>
<div class="foot">*Data obtained from the 2018 AAP Section on Neonatal Perinatal Medicine Member Survey.&nbsp; Comments and feeedback always welcomed - TheDOCISInProject@yahoo.com</div>
<div class="tb"></div>
<svg class="tbi" width="1600" height="27" viewBox="0 873 1600 27" style="position:absolute;left:0;top:873px">
<g fill="none"><path d="M22.7 885.5h5.6M25.5 882.5v6M24 878.5h3M25.5 876.9v3.2M24.5 892.2h2M25.5 890.3v3.8M16.1 885.5h3.8M18 884.1v2.8M30.9 885.5h3.8M32.8 884.1v2.8" stroke="#5a5a5a" stroke-width="1"/><path d="M18.4 881.5h4.6M20.7 879v5M27.5 881.5h4.6M29.8 879v5M18.4 889.5h4.6M20.7 887v5M27.5 889.5h4.6M29.8 887v5" stroke="#7a7a7a" stroke-width="0.9"/></g>
<g stroke="#b8b8b8" stroke-width="1.2" fill="none">
<path d="M1466 885.7h-12.5M1458.5 880.5l-5 5.2l5 5.2"/>
<path d="M1493 885.7h12.5M1500.5 880.5l5 5.2l-5 5.2"/>
<path d="M1533.5 878.5v14.5M1548 885.7h-11.5M1541.5 880.5l-5 5.2l5 5.2"/>
</g>
<g stroke="#555" stroke-width="1.1" fill="none">
<rect x="1571.6" y="879.6" width="17" height="12.6" rx="0.8"/>
<path d="M1575 885v-2.2h2.6M1582.5 882.8h2.6v2.2M1585.1 887v2.2h-2.6M1577.6 889.2h-2.6v-2.2" stroke-width="1.1"/>
</g>
</svg>
<div class="logo"><span style="font-size:17px;left:-1.5px;top:-1.5px">+</span><span style="left:16px">a</span><span style="left:29.5px">b</span><span style="left:43px;font-size:13.5px;top:-1.5px">|</span><span style="left:51.5px">e</span><span style="left:65px">a</span><span style="left:78.5px">u</span></div>
</body></html>
